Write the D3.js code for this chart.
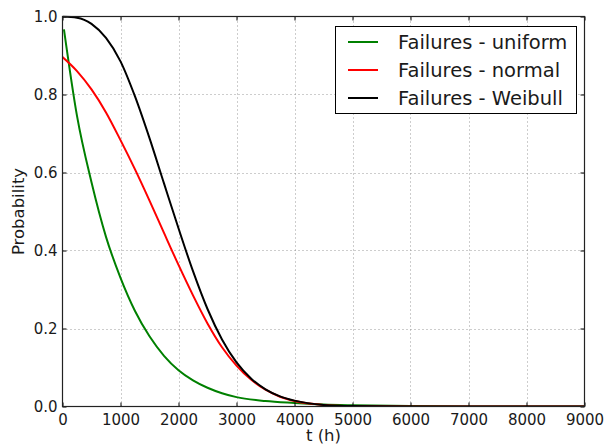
<!DOCTYPE html>
<html>
<head>
<meta charset="utf-8">
<script src="https://cdn.jsdelivr.net/npm/d3@7"></script>
<style>
  html, body { margin: 0; padding: 0; background: #fff; }
  svg { display: block; font-family: "DejaVu Sans", sans-serif; }
</style>
</head>
<body>
<svg id="chart" width="604" height="446"></svg>
<script>
// Survival probability over time for three failure models
const seriesNames = ["Failures - uniform", "Failures - normal", "Failures - Weibull"];
const seriesColors = ["#008000", "#ff0000", "#000000"];

// time in hours
const tUniform = [25, 250, 500, 750, 1000, 1250, 1500, 1750, 2000, 2250, 2500, 2750, 3000, 3500, 4000, 4500, 5000, 6000, 7000, 8000, 9000];
const pUniform = [0.967, 0.745, 0.575, 0.435, 0.33, 0.245, 0.18, 0.13, 0.093, 0.067, 0.048, 0.034, 0.024, 0.014, 0.009, 0.005, 0.003, 0.001, 0.0003, 0.0001, 0.0];

const tHours = [0, 250, 500, 750, 1000, 1250, 1500, 1750, 2000, 2250, 2500, 2750, 3000, 3250, 3500, 3750, 4000, 4500, 5000, 6000, 7000, 8000, 9000];
const pNormal = [0.896, 0.86, 0.813, 0.754, 0.683, 0.608, 0.528, 0.445, 0.363, 0.285, 0.213, 0.152, 0.105, 0.069, 0.043, 0.025, 0.014, 0.004, 0.001, 0, 0, 0, 0];
const pWeibull = [1.0, 0.997, 0.981, 0.945, 0.885, 0.795, 0.688, 0.572, 0.457, 0.347, 0.25, 0.172, 0.113, 0.072, 0.044, 0.026, 0.015, 0.004, 0.001, 0, 0, 0, 0];

const xTicks = [0, 1000, 2000, 3000, 4000, 5000, 6000, 7000, 8000, 9000];
const yTicks = [0.0, 0.2, 0.4, 0.6, 0.8, 1.0];

const svg = d3.select("#chart");
const x = d3.scaleLinear().domain([0, 9000]).range([62.5, 584.5]);
const y = d3.scaleLinear().domain([0, 1]).range([406.5, 16.5]);

// dotted grid
const grid = svg.append("g").attr("stroke", "#808080").attr("stroke-width", 0.8)
  .attr("stroke-dasharray", "1,3");
grid.selectAll("line.gx").data(xTicks.slice(1, -1)).join("line")
  .attr("x1", d => Math.round(x(d)) + 0.5).attr("x2", d => Math.round(x(d)) + 0.5)
  .attr("y1", y(0)).attr("y2", y(1));
grid.selectAll("line.gy").data(yTicks.slice(1, -1)).join("line")
  .attr("y1", d => Math.round(y(d)) + 0.5).attr("y2", d => Math.round(y(d)) + 0.5)
  .attr("x1", x(0)).attr("x2", x(9000));

// curves
const line = d3.line().curve(d3.curveMonotoneX);
const curves = [
  tUniform.map((t, i) => [x(t), y(pUniform[i])]),
  tHours.map((t, i) => [x(t), y(pNormal[i])]),
  tHours.map((t, i) => [x(t), y(pWeibull[i])])
];
svg.append("clipPath").attr("id", "plot-clip").append("rect")
  .attr("x", x(0)).attr("y", y(1) - 1).attr("width", x(9000) - x(0)).attr("height", y(0) - y(1) + 1);
svg.append("g").attr("clip-path", "url(#plot-clip)")
  .selectAll("path").data(curves).join("path")
  .attr("d", d => line(d))
  .attr("fill", "none")
  .attr("stroke", (d, i) => seriesColors[i])
  .attr("stroke-width", 2)
  .attr("stroke-linejoin", "round");

// axes with inward ticks on all four sides
const fontSize = 15;
const axB = svg.append("g").attr("transform", `translate(0,${y(0)})`)
  .call(d3.axisBottom(x).tickValues(xTicks).tickFormat(d3.format("d")).tickSizeInner(-4).tickSizeOuter(0).tickPadding(8));
const axL = svg.append("g").attr("transform", `translate(${x(0)},0)`)
  .call(d3.axisLeft(y).tickValues(yTicks).tickFormat(d3.format(".1f")).tickSizeInner(-4).tickSizeOuter(0).tickPadding(5));
const axT = svg.append("g").attr("transform", `translate(0,${y(1)})`)
  .call(d3.axisTop(x).tickValues(xTicks).tickFormat("").tickSizeInner(-4).tickSizeOuter(0));
const axR = svg.append("g").attr("transform", `translate(${x(9000)},0)`)
  .call(d3.axisRight(y).tickValues(yTicks).tickFormat("").tickSizeInner(-4).tickSizeOuter(0));
[axB, axL, axT, axR].forEach(a => {
  a.select(".domain").remove();
  a.selectAll(".tick line").attr("stroke", "#000").attr("stroke-width", 1);
  a.selectAll("text").attr("font-family", "DejaVu Sans").attr("font-size", fontSize).attr("fill", "#1a1a1a");
});

// frame
svg.append("rect").attr("x", x(0)).attr("y", y(1))
  .attr("width", x(9000) - x(0)).attr("height", y(0) - y(1))
  .attr("fill", "none").attr("stroke", "#222").attr("stroke-width", 1.2);

// axis titles
svg.append("text").attr("x", (x(0) + x(9000)) / 2).attr("y", 441)
  .attr("text-anchor", "middle").attr("font-size", 16.5).attr("fill", "#1a1a1a").text("t (h)");
svg.append("text").attr("transform", `translate(24,${(y(0) + y(1)) / 2}) rotate(-90)`)
  .attr("text-anchor", "middle").attr("font-size", 16.5).attr("fill", "#1a1a1a").text("Probability");

// legend
const legend = svg.append("g");
legend.append("rect").attr("x", 335.5).attr("y", 26.5).attr("width", 241).attr("height", 87)
  .attr("fill", "#fff").attr("stroke", "#000").attr("stroke-width", 1);
const rows = legend.selectAll("g.row").data(seriesNames).join("g")
  .attr("transform", (d, i) => `translate(0,${42 + i * 28})`);
rows.append("line").attr("x1", 348).attr("x2", 378).attr("y1", 0).attr("y2", 0)
  .attr("stroke", (d, i) => seriesColors[i]).attr("stroke-width", 2);
rows.append("text").attr("x", 398).attr("y", 7).attr("font-size", 19.5).attr("fill", "#1a1a1a").text(d => d);
</script>
</body>
</html>
